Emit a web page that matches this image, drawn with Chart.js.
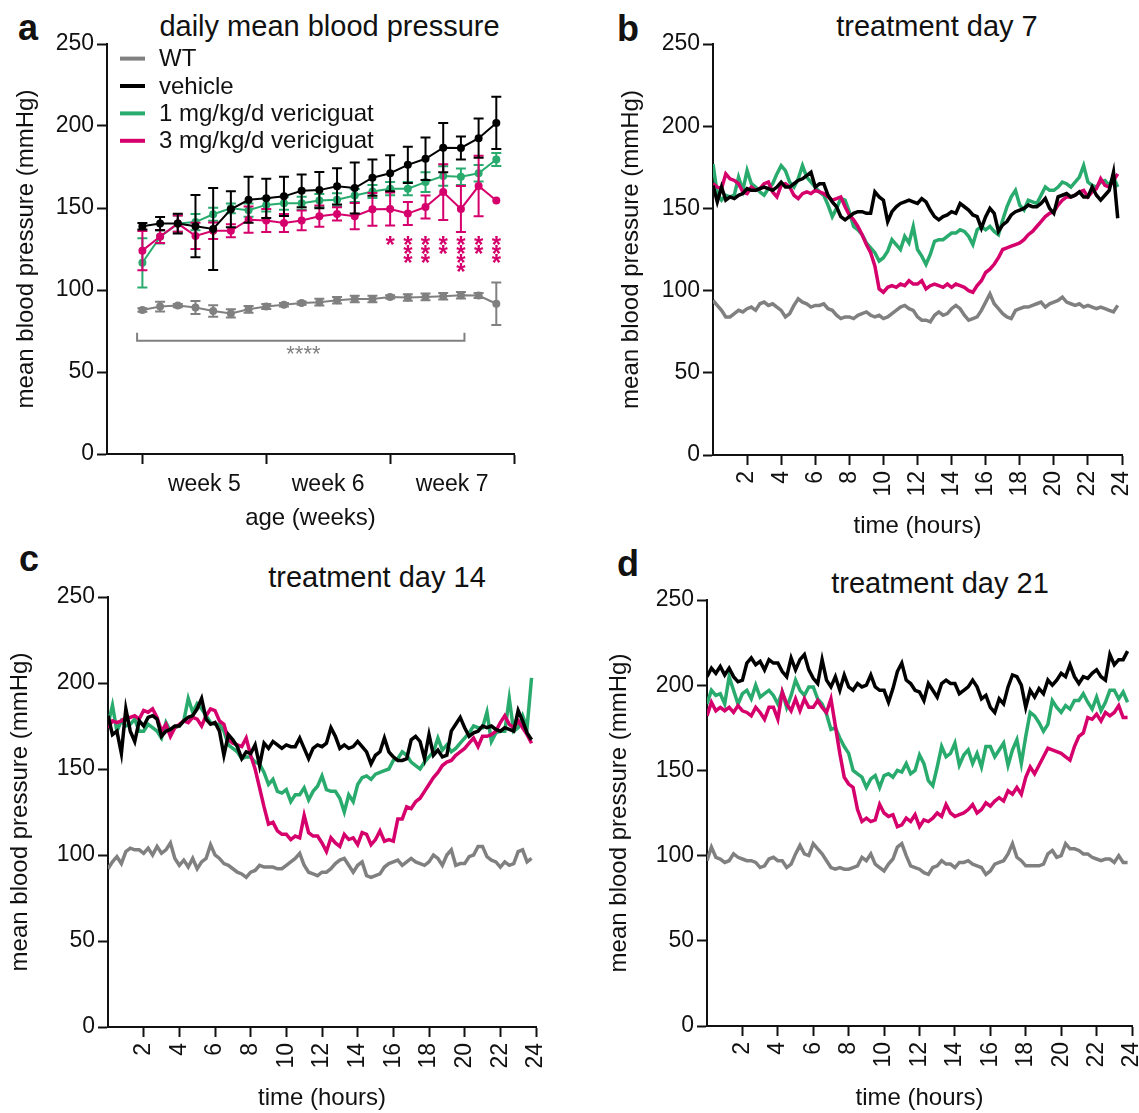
<!DOCTYPE html>
<html>
<head>
<meta charset="utf-8">
<script src="https://cdn.jsdelivr.net/npm/chart.js@4.4.1/dist/chart.umd.min.js"></script>
<style>
  html, body { margin: 0; padding: 0; background: #fff; overflow: hidden; }
  body { width: 1139px; height: 1113px; position: relative; font-family: "Liberation Sans", Arial, sans-serif; color: #111; }
  canvas { position: absolute; }
  .letter { position: absolute; font-weight: bold; font-size: 36px; line-height: 1; }
  .ttl { position: absolute; font-size: 29px; line-height: 1; white-space: nowrap; transform: translateX(-50%); }
</style>
</head>
<body>
<div class="letter" style="left:18px;top:9.5px">a</div>
<div class="letter" style="left:617px;top:10.5px">b</div>
<div class="letter" style="left:19px;top:541px">c</div>
<div class="letter" style="left:617px;top:545.5px">d</div>
<div class="ttl" style="left:329.5px;top:11.5px">daily mean blood pressure</div>
<div class="ttl" style="left:937px;top:11.5px">treatment day 7</div>
<div class="ttl" style="left:377px;top:563px">treatment day 14</div>
<div class="ttl" style="left:940px;top:568.5px">treatment day 21</div>

<canvas id="chartA" width="560" height="545" style="left:0;top:0;width:560px;height:545px"></canvas>
<canvas id="chartB" width="568" height="545" style="left:590px;top:0;width:568px;height:545px"></canvas>
<canvas id="chartC" width="572" height="563" style="left:0;top:550px;width:572px;height:563px"></canvas>
<canvas id="chartD" width="578" height="563" style="left:590px;top:550px;width:578px;height:563px"></canvas>

<script>
const INK = '#111';
const GRAY = '#808080';
const BLACK = '#000000';
const GREEN = '#29ab6e';
const MAGENTA = '#d5006c';

const GROUPS = ['WT', 'vehicle', '1 mg/kg/d vericiguat', '3 mg/kg/d vericiguat'];
const GROUP_COLORS = [GRAY, BLACK, GREEN, MAGENTA];

// ---- panel a: daily means (day 0..20) ----
const DAYS = [0, 1, 2, 3, 4, 5, 6, 7, 8, 9, 10, 11, 12, 13, 14, 15, 16, 17, 18, 19, 20];
const A_XTICKS = [0, 3.5, 7, 10.5, 14, 17.5, 21];
const A_XLABELS = ['', 'week 5', '', 'week 6', '', 'week 7', ''];

const A_WT = [87.8, 89.9, 90.5, 89.3, 87.2, 85.7, 88.2, 89.9, 91, 92, 92.6, 93.7, 94.5, 94.5, 95.8, 95.4, 95.8, 96.2, 96.8, 96.6, 91.6];
const A_WT_ERR = [1, 3, 1, 4, 3.5, 2.5, 2, 1.5, 1, 1, 2, 2, 2, 2, 1, 2, 2, 2, 2, 1.5, 13];
const A_VEH = [138.9, 140.5, 140.5, 138.9, 137.2, 149.2, 155, 155.9, 157.1, 160.5, 160.9, 163.2, 162.2, 168.5, 171.2, 176.3, 180, 186.8, 186.6, 192.6, 201.9];
const A_VEH_ERR = [2, 4, 6, 19, 25, 11, 14, 12, 12, 10, 11, 11, 15.5, 11, 11, 11, 13, 15, 7, 12, 16];
const A_1MG = [116.6, 132.4, 140.5, 141.4, 146.2, 149.8, 148.7, 151.9, 152.9, 152.9, 154.6, 155, 157.6, 160.1, 161.8, 161.8, 165.8, 169.5, 169.1, 171.2, 179.6];
const A_1MG_ERR = [15, 4, 5, 5, 4, 3, 4, 4, 4, 4, 4, 4, 4, 4, 4, 4, 6, 6, 5, 5, 4];
const A_3MG = [124, 132.6, 140.5, 133, 136.1, 136.1, 142.9, 142.4, 140.8, 142.4, 145, 146.4, 145, 149.2, 149.4, 146.6, 150.6, 159.7, 149.4, 163.4, 154.6];
const A_3MG_ERR = [12, 4, 5, 8, 5, 4, 8, 7, 5.5, 6, 6.5, 4, 8, 10, 10, 7, 7, 17, 14, 18.5, 0];

// significance marks (3 mg vs vehicle) and WT bracket
const SIG_DAYS = [14, 15, 16, 17, 18, 19, 20];
const SIG_COUNTS = [1, 3, 3, 2, 4, 2, 3];
const SIG_TOP = 131, SIG_STEP = 5.5;
const BRACKET_FROM = -0.3, BRACKET_TO = 18.2, BRACKET_Y = 69, BRACKET_TIP = 74;
const BRACKET_LABEL_X = 9.1, BRACKET_LABEL_Y = 64.5;

// ---- panels b-d: 24 h profiles, one value every 15 min ----
const HOURS = Array.from({length: 96}, (_, i) => i * 0.25);
const HOUR_TICKS = [2, 4, 6, 8, 10, 12, 14, 16, 18, 20, 22, 24];

const B_WT = [
  94,91,88,84,84,86,88,87, 89,90,88,92,93,91,92,90, 88,84,86,91,95,93,92,90,
  91,91,92,89,88,85,83,84, 84,83,85,86,87,85,84,85, 83,84,86,88,90,91,89,88,
  84,82,82,81,85,87,85,86, 89,91,89,85,82,83,84,88, 93,98,92,89,86,84,83,88,
  89,90,90,91,92,93,90,92, 93,94,96,93,92,91,92,90, 91,90,89,90,89,88,87,91];
const B_VEH = [
  164,154,163,155,157,156,158,159, 162,161,161,162,163,162,161,163, 166,163,163,165,167,168,170,172,
  163,165,165,158,154,151,145,143, 145,147,148,148,147,147,160,157, 155,142,148,151,153,154,155,154,
  153,156,154,149,145,143,145,146, 148,147,153,151,149,146,145,138, 145,150,147,136,140,142,146,148,
  149,150,152,151,151,153,156,150, 147,157,158,159,157,158,160,157, 157,163,158,155,158,161,172,144];
const B_1MG = [
  177,159,155,158,157,158,169,161, 173,165,163,160,158,162,165,171, 176,173,166,163,168,176,169,166,
  163,160,158,152,145,150,156,155, 148,139,137,134,129,126,123,118, 120,124,131,128,125,133,129,139,
  125,121,116,122,130,131,131,133, 135,135,137,136,133,128,137,139, 137,139,136,134,143,151,157,161,
  152,149,155,154,153,158,163,161, 161,163,166,165,163,166,169,176, 166,164,163,166,167,164,169,163];
const B_3MG = [
  165,163,162,171,168,167,165,160, 159,163,161,162,165,166,160,157, 164,165,163,158,156,159,160,159,
  161,160,159,157,155,156,157,151, 146,143,139,134,128,123,115,101, 99,102,103,102,104,103,106,104,
  104,106,101,103,104,103,102,104, 102,104,103,102,100,99,103,106, 111,113,116,120,125,126,127,128,
  129,131,134,136,139,142,145,147, 148,152,155,157,157,158,160,161, 157,160,162,168,164,163,167,171];

const C_WT = [
  92,96,99,95,102,104,103,103, 101,104,100,105,101,103,107,98, 94,97,93,98,92,96,98,106,
  100,98,95,94,92,90,89,87, 90,91,94,93,93,93,92,92, 94,96,98,101,94,90,89,88,
  90,90,92,95,97,98,94,90, 94,96,88,87,88,89,93,95, 96,97,94,96,98,96,95,94,
  96,100,98,94,100,103,94,95, 95,99,100,105,105,99,97,96, 93,96,94,95,102,103,96,98];
const C_VEH = [
  181,170,172,159,185,172,166,178, 175,180,181,179,169,172,173,175, 175,178,180,181,185,191,179,176,
  177,172,158,170,167,163,156,160, 159,164,152,165,162,166,164,162, 164,163,163,168,162,156,162,164,
  163,165,174,169,162,164,162,163, 166,163,160,153,158,160,168,160, 157,155,155,156,167,169,166,156,
  170,158,161,157,158,172,176,180, 174,169,171,172,175,174,175,173, 172,174,173,172,184,178,171,167];
const C_1MG = [
  176,187,172,178,175,176,179,172, 172,176,174,172,168,177,172,174, 175,178,191,183,188,185,181,177,
  176,176,172,164,162,160,156,157, 157,154,153,148,141,144,137,136, 138,131,135,135,139,132,137,140,
  146,138,137,137,133,125,135,131, 141,145,146,144,147,148,149,150, 155,156,160,158,154,152,150,154,
  157,160,168,161,164,160,162,165, 168,171,175,174,174,183,166,171, 172,172,191,172,174,181,174,203];
const C_3MG = [
  174,178,177,178,180,180,181,179, 184,183,185,180,172,176,169,174, 176,178,177,180,179,175,181,185,
  184,178,176,167,165,164,163,168, 158,150,139,128,118,119,114,112, 112,109,111,110,123,113,111,111,
  107,102,110,107,105,112,109,110, 106,113,112,106,109,114,108,109, 108,121,121,128,127,131,133,137,
  141,145,148,152,154,155,158,160, 162,165,168,163,169,169,170,172, 177,181,176,174,178,174,170,165];

const D_WT = [
  97,105,99,98,96,97,101,99, 98,97,97,96,93,94,98,99, 97,97,93,95,101,106,101,100,
  107,104,101,97,93,92,93,92, 92,93,94,99,97,101,95,93, 91,95,98,105,107,100,94,93,
  92,90,89,93,94,97,95,95, 93,96,96,97,95,94,93,89, 91,95,96,97,101,107,99,97,
  94,94,94,94,95,101,103,99, 100,107,104,104,103,101,101,99, 98,97,98,98,96,100,96,96];
const D_VEH = [
  205,210,207,211,206,210,205,202, 203,213,216,212,214,209,215,213, 213,208,205,216,209,215,218,209,
  204,201,215,203,199,205,197,206, 199,197,201,199,200,206,199,197, 197,190,198,208,213,203,201,197,
  196,191,201,197,193,201,203,201, 201,195,197,199,203,199,192,194, 187,184,192,189,199,206,205,200,
  187,197,193,198,195,203,200,203, 207,205,212,205,201,205,204,207, 209,205,203,218,212,215,215,220];
const D_1MG = [
  189,197,194,195,189,205,197,189, 195,197,192,200,193,195,197,194, 189,196,187,194,203,197,194,199,
  199,192,189,183,174,175,169,164, 160,150,148,146,140,145,147,140, 147,148,146,150,149,154,148,150,
  159,154,144,141,152,164,158,160, 166,153,159,162,154,160,152,164, 164,158,162,166,153,162,168,154,
  170,184,182,178,173,177,191,187, 184,188,186,191,191,195,190,186, 193,185,190,197,197,192,196,190];
const D_3MG = [
  182,190,185,187,185,187,184,188, 185,184,182,187,184,180,187,187, 180,196,189,185,192,185,192,187,
  187,191,187,184,192,176,160,146, 142,140,127,120,122,120,121,130, 125,123,124,117,118,122,120,124,
  117,121,120,122,125,123,130,125, 123,124,125,127,130,125,127,131, 129,132,134,132,138,136,140,136,
  146,152,148,153,158,163,162,161, 160,158,156,164,170,172,181,180, 183,179,184,182,184,188,181,181];

Chart.defaults.font.family = '"Liberation Sans", Arial, sans-serif';
Chart.defaults.font.size = 23;
Chart.defaults.color = INK;

// draw order: vehicle on top, then 3 mg, 1 mg, WT underneath
const DRAW_ORDER = [3, 0, 2, 1];

const errorBars = {
  id: 'errorBars',
  afterDatasetDraw(chart, args) {
    const ds = chart.data.datasets[args.index];
    if (!ds.errors) return;
    const ctx = chart.ctx, y = chart.scales.y;
    ctx.save();
    ctx.strokeStyle = ds.borderColor;
    ctx.lineWidth = 2;
    args.meta.data.forEach((pt, i) => {
      const e = ds.errors[i];
      if (!e) return;
      const v = ds.data[i].y;
      const top = y.getPixelForValue(v + e), bot = y.getPixelForValue(v - e);
      ctx.beginPath();
      ctx.moveTo(pt.x, top); ctx.lineTo(pt.x, bot);
      ctx.moveTo(pt.x - 5, top); ctx.lineTo(pt.x + 5, top);
      ctx.moveTo(pt.x - 5, bot); ctx.lineTo(pt.x + 5, bot);
      ctx.stroke();
    });
    ctx.restore();
  }
};

const legendA = {
  id: 'legendA',
  afterDraw(chart) {
    const {ctx, chartArea: a} = chart;
    ctx.save();
    ctx.font = '24px "Liberation Sans", Arial, sans-serif';
    ctx.textBaseline = 'middle';
    GROUPS.forEach((name, i) => {
      const yy = a.top + 14.6 + i * 27.4;
      ctx.strokeStyle = GROUP_COLORS[i];
      ctx.lineWidth = 4;
      ctx.beginPath(); ctx.moveTo(a.left + 13, yy); ctx.lineTo(a.left + 38, yy); ctx.stroke();
      ctx.fillStyle = INK;
      ctx.fillText(name, a.left + 52, yy + 1);
    });
    ctx.restore();
  }
};

const sigMarks = {
  id: 'sigMarks',
  afterDraw(chart) {
    const {ctx} = chart, x = chart.scales.x, y = chart.scales.y;
    ctx.save();
    ctx.textAlign = 'center';
    ctx.textBaseline = 'alphabetic';
    ctx.font = 'bold 24px "Liberation Sans", Arial, sans-serif';
    ctx.fillStyle = MAGENTA;
    SIG_DAYS.forEach((d, i) => {
      for (let k = 0; k < SIG_COUNTS[i]; k++) {
        ctx.fillText('*', x.getPixelForValue(d), y.getPixelForValue(SIG_TOP - k * SIG_STEP) + 0.57 * 24);
      }
    });
    // WT vs vehicle bracket
    const x0 = x.getPixelForValue(BRACKET_FROM), x1 = x.getPixelForValue(BRACKET_TO);
    const yb = y.getPixelForValue(BRACKET_Y), yt = y.getPixelForValue(BRACKET_TIP);
    ctx.strokeStyle = GRAY;
    ctx.lineWidth = 2;
    ctx.beginPath();
    ctx.moveTo(x0, yt); ctx.lineTo(x0, yb); ctx.lineTo(x1, yb); ctx.lineTo(x1, yt);
    ctx.stroke();
    ctx.fillStyle = GRAY;
    ctx.font = '22px "Liberation Sans", Arial, sans-serif';
    ctx.fillText('****', x.getPixelForValue(BRACKET_LABEL_X), y.getPixelForValue(BRACKET_LABEL_Y) + 0.57 * 22);
    ctx.restore();
  }
};

function yScale(geo) {
  return {
    min: 0, max: 250,
    ticks: { stepSize: 50, padding: 3, color: INK },
    grid: { drawOnChartArea: false, tickLength: 10, tickWidth: 2, tickColor: INK },
    border: { color: INK, width: 2 },
    title: { display: true, text: 'mean blood pressure (mmHg)', color: INK, font: { size: 24 }, padding: { top: geo.ytp, bottom: 0 } },
    afterFit: s => { s.width = geo.yw; }
  };
}

function baseOptions(geo) {
  return {
    responsive: false,
    animation: false,
    events: [],
    layout: { padding: { top: geo.top, right: geo.right, bottom: 0, left: 0 } },
    plugins: { legend: { display: false }, tooltip: { enabled: false } }
  };
}

// ---- panel a ----
const A_SERIES = [A_WT, A_VEH, A_1MG, A_3MG];
const A_ERRS = [A_WT_ERR, A_VEH_ERR, A_1MG_ERR, A_3MG_ERR];
const geoA = { top: 44, right: 46, yw: 107, xh: 91, ytp: 12, xbp: 12 };

new Chart(document.getElementById('chartA'), {
  type: 'line',
  data: {
    datasets: GROUPS.map((g, i) => ({
      label: g,
      data: DAYS.map((d, j) => ({ x: d, y: A_SERIES[i][j] })),
      errors: A_ERRS[i],
      borderColor: GROUP_COLORS[i],
      backgroundColor: GROUP_COLORS[i],
      pointBackgroundColor: GROUP_COLORS[i],
      borderWidth: 2,
      pointRadius: 4,
      pointBorderWidth: 0,
      tension: 0,
      order: DRAW_ORDER[i]
    }))
  },
  options: Object.assign(baseOptions(geoA), {
    scales: {
      x: {
        type: 'linear', min: -2, max: 21,
        afterBuildTicks: s => { s.ticks = A_XTICKS.map(v => ({ value: v })); },
        ticks: { autoSkip: false, maxRotation: 0, minRotation: 0, padding: 7, color: INK,
                 callback: (v, i) => A_XLABELS[i] },
        grid: { drawOnChartArea: false, tickLength: 10, tickWidth: 2,
                tickColor: c => (A_XLABELS[c.index] === '' ? INK : 'rgba(0,0,0,0)') },
        border: { color: INK, width: 2 },
        title: { display: true, text: 'age (weeks)', color: INK, font: { size: 24 }, padding: { top: 0, bottom: geoA.xbp } },
        afterFit: s => { s.height = geoA.xh; }
      },
      y: yScale(geoA)
    }
  }),
  plugins: [errorBars, legendA, sigMarks]
});

// ---- panels b-d ----
function timeChart(id, geo, series) {
  return new Chart(document.getElementById(id), {
    type: 'line',
    data: {
      datasets: GROUPS.map((g, i) => ({
        label: g,
        data: HOURS.map((h, j) => ({ x: h, y: series[i][j] })),
        borderColor: GROUP_COLORS[i],
        borderWidth: 3.5,
        pointRadius: 0,
        tension: 0,
        order: DRAW_ORDER[i]
      }))
    },
    options: Object.assign(baseOptions(geo), {
      scales: {
        x: {
          type: 'linear', min: 0, max: 24,
          afterBuildTicks: s => { s.ticks = HOUR_TICKS.map(v => ({ value: v })); },
          ticks: { autoSkip: false, maxRotation: 90, minRotation: 90, padding: 6, color: INK },
          grid: { drawOnChartArea: false, tickLength: 10, tickWidth: 2, tickColor: INK },
          border: { color: INK, width: 2 },
          title: { display: true, text: 'time (hours)', color: INK, font: { size: 24 }, padding: { top: 0, bottom: geo.xbp } },
          afterFit: s => { s.height = geo.xh; }
        },
        y: yScale(geo)
      }
    })
  });
}

timeChart('chartB', { top: 44, right: 36, yw: 123, xh: 90, ytp: 27, xbp: 4.6 }, [B_WT, B_VEH, B_1MG, B_3MG]);
timeChart('chartC', { top: 47, right: 36, yw: 108, xh: 86, ytp: 6, xbp: 0 }, [C_WT, C_VEH, C_1MG, C_3MG]);
timeChart('chartD', { top: 50, right: 36, yw: 117, xh: 87, ytp: 14.5, xbp: 0 }, [D_WT, D_VEH, D_1MG, D_3MG]);
</script>
</body>
</html>
